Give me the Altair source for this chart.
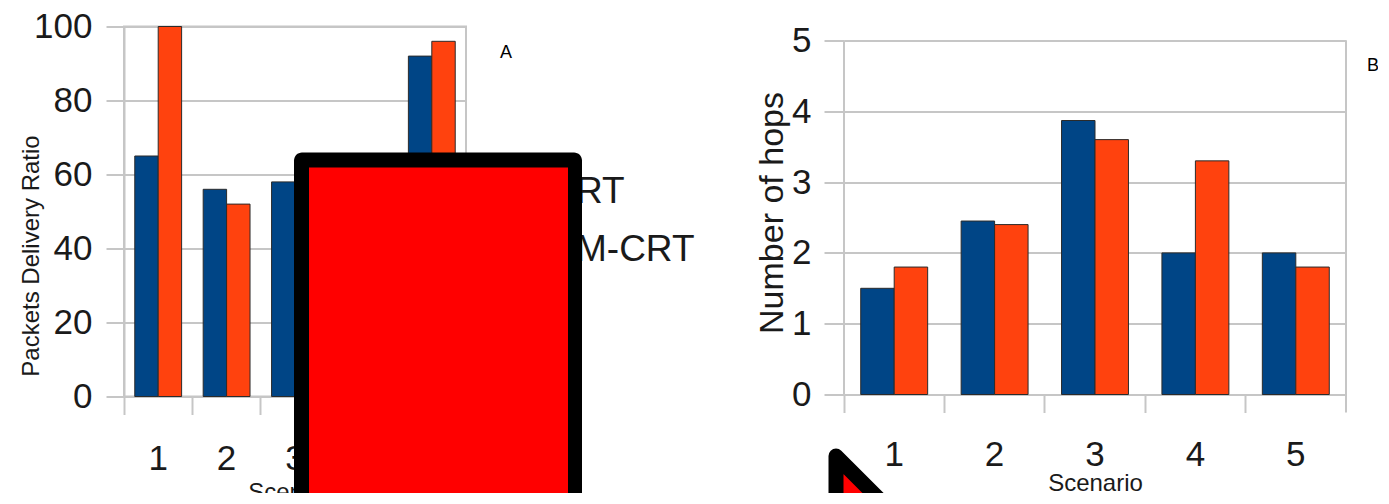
import altair as alt
import pandas as pd

FONT = "Liberation Sans"
TXT = "#1a1a1a"
GRID = "#c6c6c6"

# ---- data ----
scenarios = ["1", "2", "3", "4", "5"]
series = ["RT", "M-CRT"]
colors = ["#004586", "#ff420e"]
pdr_rt = [65, 56, 58, 50, 92]
pdr_mcrt = [100, 52, 55, 60, 96]
hops_rt = [1.5, 2.45, 3.87, 2.0, 2.0]
hops_mcrt = [1.8, 2.4, 3.6, 3.3, 1.8]
pdr_ticks = [0, 20, 40, 60, 80, 100]
hops_ticks = [0, 1, 2, 3, 4, 5]


def long_table(a, b):
    rows = []
    for i, s in enumerate(scenarios):
        rows.append({"Scenario": s, "Series": series[0], "value": a[i]})
        rows.append({"Scenario": s, "Series": series[1], "value": b[i]})
    return pd.DataFrame(rows)


df_pdr = long_table(pdr_rt, pdr_mcrt)
df_hops = long_table(hops_rt, hops_mcrt)
one = pd.DataFrame({"k": [0]})

color_enc = alt.Color("Series:N", sort=series,
                      scale=alt.Scale(domain=series, range=colors), legend=None)


def x_axis(title_y, pad):
    return alt.Axis(title="Scenario", labelAngle=0, labelFont=FONT, labelFontSize=35,
                    labelColor=TXT, labelPadding=pad, tickColor=GRID, tickWidth=2,
                    tickSize=18, domainColor=GRID, domainWidth=2, grid=False,
                    bandPosition=0, titleFont=FONT, titleFontSize=24,
                    titleFontWeight="normal", titleColor=TXT, titleY=title_y)


def y_axis(title, values, tick, pad, fs, tx, ty, domain=True):
    return alt.Axis(title=title, values=values, format="d", labelFont=FONT,
                    labelFontSize=35, labelColor=TXT, labelPadding=pad,
                    tickColor=GRID, tickWidth=2, tickSize=tick, domain=domain,
                    domainColor=GRID, domainWidth=2, grid=True, gridColor=GRID,
                    gridWidth=2, titleFont=FONT, titleFontSize=fs,
                    titleFontWeight="normal", titleColor=TXT, titleX=tx, titleY=ty,
                    titleBaseline="bottom", titleAlign="center")


# ---- left panel ----
W1, H1 = 342, 370
bars1 = alt.Chart(df_pdr).mark_bar(stroke="#2b2b2b", strokeWidth=1).encode(
    x=alt.X("Scenario:N", sort=scenarios,
            scale=alt.Scale(paddingInner=0, paddingOuter=0), axis=x_axis(84, 27)),
    xOffset=alt.XOffset("Series:N", sort=series,
                        scale=alt.Scale(paddingInner=0, paddingOuter=0.46)),
    y=alt.Y("value:Q", scale=alt.Scale(domain=[0, 100], nice=False),
            axis=y_axis("Packets Delivery Ratio", pdr_ticks, 18, 14, 24, -81, 229)),
    color=color_enc,
)
edge1 = alt.Chart(one).mark_rule(color=GRID, strokeWidth=2).encode(
    x=alt.value(W1), y=alt.value(H1), y2=alt.value(H1 + 18))
labA = alt.Chart(one).mark_text(text="A", font=FONT, fontSize=18, color="#000",
                                align="left", baseline="alphabetic").encode(
    x=alt.value(376), y=alt.value(31))
leg_layers = []
for i, s in enumerate(series):
    d = pd.DataFrame({"Series": [s]})
    leg_layers.append(alt.Chart(d).mark_square(size=324, opacity=1).encode(
        x=alt.value(428), y=alt.value(163 + 58 * i), color=color_enc))
    leg_layers.append(alt.Chart(d).mark_text(font=FONT, fontSize=37, color=TXT,
                                             align="left", baseline="alphabetic").encode(
        x=alt.value(452), y=alt.value(176 + 58 * i), text="Series:N"))
box_black = alt.Chart(one).mark_rect(color="#000000", cornerRadius=8).encode(
    x=alt.value(170), x2=alt.value(458), y=alt.value(126), y2=alt.value(500))
box_red = alt.Chart(one).mark_rect(color="#ff0000").encode(
    x=alt.value(185), x2=alt.value(444), y=alt.value(141), y2=alt.value(500))

left = alt.layer(bars1, edge1, labA, *leg_layers, box_black, box_red).properties(
    width=W1, height=H1)

# ---- right panel ----
W2, H2 = 502, 368
HOPS_TOP = 5 * H2 / 354
bars2 = alt.Chart(df_hops).mark_bar(stroke="#2b2b2b", strokeWidth=1).encode(
    x=alt.X("Scenario:N", sort=scenarios,
            scale=alt.Scale(paddingInner=0, paddingOuter=0), axis=x_axis(77, 25)),
    xOffset=alt.XOffset("Series:N", sort=series,
                        scale=alt.Scale(paddingInner=0, paddingOuter=0.5)),
    y=alt.Y("value:Q", scale=alt.Scale(domain=[0, HOPS_TOP], nice=False),
            axis=y_axis("Number of hops", hops_ticks, 20, 13, 34, -55, 186,
                        domain=False)),
    color=color_enc,
)
edge2r = alt.Chart(one).mark_rule(color=GRID, strokeWidth=2).encode(
    x=alt.value(W2), y=alt.datum(5), y2=alt.value(H2 + 18))
edge2l = alt.Chart(one).mark_rule(color=GRID, strokeWidth=2).encode(
    x=alt.value(0), y=alt.datum(5), y2=alt.value(H2))
labB = alt.Chart(one).mark_text(text="B", font=FONT, fontSize=18, color="#000",
                                align="left", baseline="alphabetic").encode(
    x=alt.value(523), y=alt.value(44))
arrow = alt.Chart(one).mark_point(
    shape="M2,1 L0,-1 L0,1", filled=True, fill="#ff0000", stroke="#000000",
    strokeWidth=15, strokeJoin="round", opacity=1, fillOpacity=1, strokeOpacity=1,
    size=3249).encode(x=alt.value(-8), y=alt.value(458))

right = alt.layer(bars2, edge2l, edge2r, labB, arrow).properties(
    width=W2, height=H2, view=alt.ViewConfig(stroke="transparent"))

chart = alt.hconcat(left, right, spacing=58).resolve_scale(
    color="shared", x="independent", xOffset="independent", y="independent"
).configure_view(stroke=GRID, strokeWidth=2).properties(
    padding={"left": 10, "top": 0.5, "right": -3, "bottom": -35},
    background="white")

chart.save("out.html", embed_options={"renderer": "svg", "actions": False})
